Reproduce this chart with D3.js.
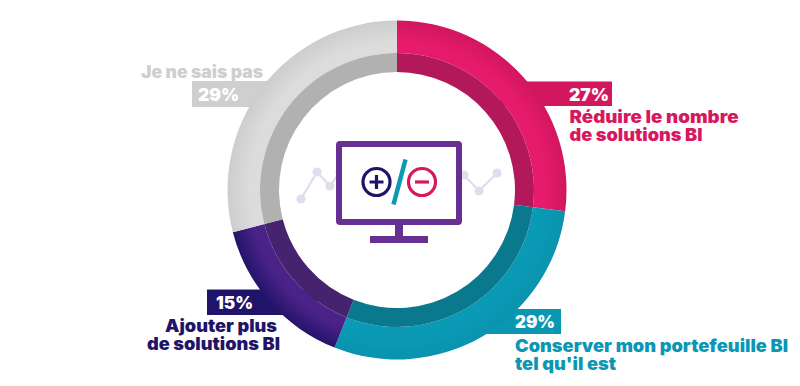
<!DOCTYPE html>
<html><head><meta charset="utf-8">
<script src="https://cdn.jsdelivr.net/npm/d3@7"></script>
<style>html,body{margin:0;background:#fff}svg{display:block}text{font-family:Inter,"Open Sans",sans-serif;font-weight:900}</style>
</head><body><svg width="800" height="386"></svg>
<script>
const categories=["Réduire le nombre de solutions BI","Conserver mon portefeuille BI tel qu'il est","Ajouter plus de solutions BI","Je ne sais pas"];
const values=[27,29,15,29];
const valueLabels=["27%","29%","15%","29%"];
const outerEdge=["#d2165f","#0993ae","#24146b","#cdcdcd"];
const outerMid=["#e61b6c","#0a9ab5","#4b2388","#dcdcdc"];
const innerBand=["#b2185a","#0a788d","#45236f","#b1b1b1"];
const labelColors=["#d7185f","#0b97b3","#1f1568","#cfcfcf"];
const barColors=["#d3175e","#0a97b2","#20146a","#cfcfcf"];
const linePtsL=[[301,199],[317,172],[330,186],[340,172]];
const linePtsR=[[455,165],[464,175],[479,191],[497,173]];
const labelLines=[["Réduire le nombre","de solutions BI"],["Conserver mon portefeuille BI","tel qu'il est"],["Ajouter plus","de solutions BI"],["Je ne sais pas"]];

const svg=d3.select("svg");
const cx=397,cy=190,R=169.5,Rm=137,Ri=118;
const arcs=d3.pie().value(d=>d).sort(null)(values);
const defs=svg.append("defs");
arcs.forEach((a,i)=>{
 const g=defs.append("radialGradient").attr("id","g"+i).attr("gradientUnits","userSpaceOnUse")
  .attr("cx",0).attr("cy",0).attr("r",R);
 [[0,outerMid[i]],[Rm/R,outerMid[i]],[(Rm+10)/R,outerMid[i]],[1,outerEdge[i]]].forEach(s=>g.append("stop").attr("offset",s[0]).attr("stop-color",s[1]));
});
const bars=[{x:500,y:81.5,w:112,h:24.5},{x:470,y:309,w:91,h:25},{x:207,y:289.5,w:110,h:25.5},{x:192,y:81,w:90,h:26}];
svg.selectAll(".bar").data(bars).join("rect").attr("class","bar")
 .attr("x",d=>d.x).attr("y",d=>d.y).attr("width",d=>d.w).attr("height",d=>d.h).attr("fill",(d,i)=>barColors[i]);
const g=svg.append("g").attr("transform",`translate(${cx},${cy})`);
g.selectAll(".o").data(arcs).join("path").attr("class","o").attr("d",d3.arc().innerRadius(Rm).outerRadius(R)).attr("fill",(d,i)=>`url(#g${i})`);
g.selectAll(".i").data(arcs).join("path").attr("class","i").attr("d",d3.arc().innerRadius(Ri).outerRadius(Rm)).attr("fill",(d,i)=>innerBand[i]);
const line=d3.line();
[linePtsL,linePtsR].forEach(p=>{
 svg.append("path").attr("d",line(p)).attr("fill","none").attr("stroke","#e3dcec").attr("stroke-width",2.2);
 svg.selectAll(null).data(p).join("circle").attr("cx",d=>d[0]).attr("cy",d=>d[1]).attr("r",4.6).attr("fill","#e3dcec");
});
const P="#672f91";
svg.append("rect").attr("x",339).attr("y",144).attr("width",120).attr("height",78).attr("rx",1).attr("fill","#fff").attr("stroke",P).attr("stroke-width",6);
svg.append("rect").attr("x",395).attr("y",225).attr("width",8).attr("height",12).attr("fill",P);
svg.append("rect").attr("x",370).attr("y",236).attr("width",58).attr("height",7).attr("fill",P);
const ic=svg.append("g");
ic.append("circle").attr("cx",376.5).attr("cy",182).attr("r",13.5).attr("fill","none").attr("stroke","#1f1568").attr("stroke-width",3.2);
ic.append("path").attr("d","M369.5 182H383.5M376.5 175V189").attr("stroke","#1f1568").attr("stroke-width",3.2).attr("fill","none");
ic.append("circle").attr("cx",422).attr("cy",182).attr("r",13.5).attr("fill","none").attr("stroke","#d7185f").attr("stroke-width",3.2);
ic.append("path").attr("d","M415 182H429").attr("stroke","#d7185f").attr("stroke-width",3.2).attr("fill","none");
ic.append("path").attr("d","M405.5 159.5L393.5 204.5").attr("stroke","#0b9ab0").attr("stroke-width",4.5);
const vx=[569,515,216,198],vy=[101,328,309,101],vw=[40,40,37,41];
svg.selectAll(".v").data(valueLabels).join("text").attr("class","v").attr("x",(d,i)=>vx[i]).attr("y",(d,i)=>vy[i])
 .attr("textLength",(d,i)=>vw[i]).attr("lengthAdjust","spacingAndGlyphs")
 .attr("fill","#fff").attr("font-size",17).text(d=>d);
const lx=[569.5,515,277,141],ly=[123,352,332,78];
const lw=[[169,133],[273,101],[112,133],[122]];
const lxAdj=[[0,0],[0,0],[-112,-130],[0]];
labelLines.forEach((ls,i)=>ls.forEach((t,j)=>{
 svg.append("text").attr("x",lx[i]+lxAdj[i][j]).attr("y",ly[i]+j*17.5).attr("fill",labelColors[i]).attr("font-size",17)
  .attr("textLength",lw[i][j]).attr("lengthAdjust","spacingAndGlyphs").text(t);
}));
</script></body></html>
